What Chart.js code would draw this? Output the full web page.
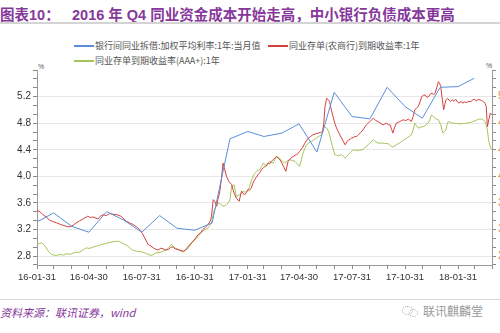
<!DOCTYPE html>
<html><head><meta charset="utf-8">
<script src="https://cdn.jsdelivr.net/npm/chart.js@4/dist/chart.umd.min.js"></script>
<style>
html,body{margin:0;padding:0;background:#fff;}
body{width:500px;height:333px;position:relative;overflow:hidden;font-family:"Liberation Sans","Noto Sans CJK SC",sans-serif;}
.abs{position:absolute;white-space:nowrap;}
#title{left:0;top:3px;font-size:14.5px;font-weight:bold;color:#86389A;font-family:"Liberation Sans","Noto Sans CJK SC",sans-serif;}
#hr1{left:0;top:22px;width:500px;height:2px;background:#d4d4d4;}
#hr2{left:0;top:299px;width:500px;height:1px;background:#d8d8d8;}
.lg{font-size:9px;color:#555;font-family:"Noto Sans CJK SC",sans-serif;}
.sw{height:1.5px;width:20px;}
#src{left:0;top:304px;font-size:11px;font-style:italic;color:#86389A;font-family:"Noto Sans CJK SC",sans-serif;}
#wm{left:423px;top:302px;font-size:12px;color:#9a9a9a;font-family:"Noto Sans CJK SC",sans-serif;}
#wrap{position:absolute;left:0;top:62px;width:500px;height:226px;}
.pct{font-size:7px;color:#555;}
</style></head>
<body>
<div class="abs" id="title">图表10：<span style="position:absolute;left:72px;">2016 年 Q4 同业资金成本开始走高，中小银行负债成本更高</span></div>
<div class="abs" id="hr1"></div>
<div class="abs sw" style="left:74px;top:45px;background:#5A8FD8;"></div>
<div class="abs lg" style="left:95px;top:39px;">银行间同业拆借:加权平均利率:1年:当月值</div>
<div class="abs sw" style="left:268px;top:45px;background:#D6403C;"></div>
<div class="abs lg" style="left:289px;top:39px;">同业存单(农商行)到期收益率:1年</div>
<div class="abs sw" style="left:74px;top:60px;background:#A3C45A;"></div>
<div class="abs lg" style="left:95px;top:54px;">同业存单到期收益率(AAA+):1年</div>
<div class="abs pct" style="left:38px;top:63px;">%</div>
<div class="abs pct" style="left:486px;top:62px;">%</div>
<div id="wrap"><canvas id="c"></canvas></div>
<div class="abs" id="hr2"></div>
<div class="abs" id="src">资料来源：联讯证券，wind</div>
<div class="abs" style="left:402px;top:306px;width:9px;height:7px;border:1px dotted #aaa;border-radius:50%;"></div>
<div class="abs" style="left:409px;top:309px;width:7px;height:6px;border:1px dotted #aaa;border-radius:50%;"></div>
<div class="abs" id="wm">联讯麒麟堂</div>
<script>
// x values: days since 2016-01-31
const tickDays = [0,29,60,90,121,151,182,213,243,274,304,335,366,394,425,455,486,516,547,578,608,639,669,700,731,759,790];
const labelDays = [0,90,182,274,366,455,547,639,731];
const tickLabels = ['16-01-31','16-04-30','16-07-31','16-10-31','17-01-31','17-04-30','17-07-31','17-10-31','18-01-31'];

// 银行间同业拆借:加权平均利率:1年:当月值 (monthly)
const blueDays = [0,29,60,90,121,151,182,213,243,274,304,335,366,394,425,455,486,516,547,578,608,639,669,700,731,759];
const blueVals = [3.315,3.45,3.25,3.16,3.47,3.34,3.16,3.41,3.22,3.19,3.30,4.565,4.675,4.60,4.65,4.79,4.365,5.265,4.90,4.865,5.34,5.05,4.875,5.34,5.35,5.475];

// 同业存单(农商行)到期收益率:1年
const redDays = [0,5,10,16,22,28,34,40,45,54,60,68,74,80,88,93,97,106,110,115,120,126,132,138,146,155,161,167,173,178,183,187,193,198,202,206,210,215,219,223,228,232,236,240,245,250,254,258,262,267,271,276,280,284,288,292,297,301,303,306,309,312,314,317,320,323,326,329,333,338,342,346,351,355,358,361,364,366,369,372,375,378,381,384,387,390,393,396,399,401,404,407,411,416,419,422,425,428,432,436,440,445,450,453,456,461,465,468,471,475,479,484,488,492,496,498,500,503,506,508,511,514,517,520,523,526,529,532,535,538,541,544,546,549,552,555,558,562,566,569,572,575,578,581,584,588,592,596,601,604,607,610,613,616,618,621,624,627,630,633,636,640,645,650,653,656,659,662,665,668,671,674,677,680,683,686,689,691,694,697,699,701,703,704,706,708,710,713,716,718,721,724,727,730,733,736,739,742,746,750,753,756,760,763,766,769,772,775,778,780,782,785,787,790];
const redVals = [3.49,3.47,3.425,3.39,3.34,3.32,3.30,3.28,3.265,3.24,3.25,3.30,3.33,3.36,3.40,3.38,3.39,3.36,3.40,3.425,3.41,3.44,3.43,3.425,3.40,3.325,3.30,3.275,3.24,3.20,3.14,3.075,2.975,2.95,2.925,2.905,2.89,2.92,2.91,2.89,2.90,2.93,2.94,2.91,2.90,2.885,2.875,2.89,2.925,2.98,3.025,3.08,3.125,3.15,3.20,3.23,3.275,3.33,3.40,3.65,3.62,3.55,3.65,3.75,3.95,4.20,4.10,4.00,3.925,3.875,3.75,3.675,3.625,3.775,3.74,3.725,3.76,3.80,3.79,3.825,3.90,3.95,3.99,4.025,4.06,4.10,4.13,4.15,4.17,4.20,4.19,4.225,4.26,4.30,4.27,4.25,4.20,4.15,4.075,4.225,4.27,4.30,4.325,4.34,4.375,4.43,4.50,4.54,4.575,4.60,4.625,4.64,4.65,4.66,4.675,4.80,5.05,5.175,5.15,5.125,5.00,4.90,4.80,4.73,4.675,4.62,4.575,4.52,4.475,4.52,4.55,4.56,4.575,4.58,4.60,4.60,4.625,4.66,4.70,4.74,4.775,4.80,4.825,4.85,4.875,4.84,4.825,4.80,4.775,4.79,4.80,4.78,4.775,4.70,4.65,4.74,4.80,4.81,4.825,4.84,4.85,4.84,4.86,4.825,4.90,5.00,5.03,5.05,5.12,5.20,5.22,5.225,5.19,5.20,5.24,5.25,5.23,5.25,5.33,5.425,5.40,5.35,5.20,5.15,5.00,5.08,5.15,5.175,5.14,5.125,5.15,5.13,5.16,5.12,5.10,5.13,5.10,5.12,5.11,5.13,5.12,5.15,5.16,5.13,5.16,5.15,5.14,5.125,5.10,5.05,4.75,4.875,4.95,4.93];

// 同业存单到期收益率(AAA+):1年
const greenDays = [0,4,8,12,16,20,25,30,34,38,42,46,51,56,60,64,68,72,77,81,86,90,94,99,103,108,112,118,123,128,132,136,141,145,149,154,158,164,168,173,178,184,188,193,199,203,207,212,216,220,225,229,233,236,239,245,250,254,258,262,267,271,276,280,284,288,292,297,300,303,307,311,314,317,320,323,326,329,332,335,338,342,344,346,349,352,355,358,361,364,367,369,372,375,378,381,384,387,390,393,396,398,401,404,407,410,413,416,420,424,427,430,434,439,443,448,452,456,459,462,465,468,472,476,481,485,489,494,496,498,500,503,506,508,511,513,517,520,523,526,529,532,535,538,540,544,549,553,558,562,566,570,575,579,584,588,592,596,601,605,610,614,618,621,624,629,633,637,642,646,650,653,656,659,662,666,671,675,679,682,685,688,691,694,697,701,703,705,708,710,712,714,718,723,728,734,740,746,752,757,763,769,772,775,778,780,782,784,786,788,790];
const greenVals = [2.975,2.99,3.00,2.975,2.925,2.87,2.825,2.815,2.81,2.82,2.825,2.815,2.835,2.83,2.835,2.85,2.86,2.855,2.875,2.90,2.925,2.915,2.925,2.94,2.95,2.96,2.975,2.985,3.00,3.01,3.015,3.02,3.025,3.01,2.99,2.97,2.95,2.90,2.885,2.875,2.87,2.86,2.845,2.825,2.81,2.83,2.85,2.855,2.86,2.88,2.90,2.93,2.975,2.95,2.925,2.90,2.875,2.86,2.90,2.95,2.99,3.025,3.06,3.10,3.14,3.175,3.20,3.225,3.26,3.30,3.475,3.55,3.58,3.60,3.57,3.55,3.56,3.575,3.60,3.65,3.85,3.875,3.80,3.70,3.71,3.725,3.75,3.775,3.76,3.775,3.80,3.85,3.93,4.00,4.04,4.075,4.09,4.10,4.15,4.20,4.18,4.15,4.19,4.225,4.21,4.20,4.25,4.30,4.28,4.25,4.22,4.20,4.23,4.25,4.24,4.225,4.19,4.15,4.25,4.35,4.42,4.475,4.50,4.525,4.55,4.575,4.60,4.625,4.68,4.75,4.74,4.725,4.68,4.625,4.52,4.45,4.325,4.32,4.31,4.32,4.325,4.30,4.275,4.30,4.325,4.36,4.40,4.395,4.39,4.395,4.40,4.44,4.475,4.51,4.55,4.52,4.50,4.50,4.50,4.495,4.49,4.46,4.44,4.46,4.475,4.50,4.525,4.55,4.575,4.60,4.625,4.70,4.80,4.76,4.725,4.74,4.75,4.77,4.80,4.85,4.925,4.90,4.875,4.86,4.85,4.775,4.70,4.65,4.68,4.70,4.78,4.825,4.81,4.80,4.795,4.79,4.795,4.80,4.81,4.825,4.845,4.865,4.86,4.85,4.82,4.775,4.70,4.55,4.47,4.425,4.40];

const yMajorLabels = ['2.8','3.2','3.6','4.0','4.4','4.8','5.2'];

const pts = (d, v) => d.map((x, i) => ({x: x, y: v[i]}));
const yMin = 2.8 - 0.4/3, yMax = 5.6, yStep = 0.4/3;
const yTicks = [];
for (let i = 0; yMin + i*yStep <= yMax + 1e-6; i++) yTicks.push(+(yMin + i*yStep).toFixed(6));
const isMajor = v => yMajorLabels.includes((+v).toFixed(1)) && Math.abs(v - (+(+v).toFixed(1))) < 1e-4;

const yAxisBase = (pos) => ({
  type: 'linear', position: pos, min: yMin, max: yMax,
  afterBuildTicks: s => { s.ticks = yTicks.map(v => ({value: v})); },
  afterFit: s => { s.width = pos === 'left' ? 37 : 8; },
  border: {color: '#9a9a9a', width: 1},
  grid: {
    drawOnChartArea: pos === 'left',
    color: c => (c.tick && isMajor(c.tick.value)) ? '#e8e8e8' : 'rgba(0,0,0,0)',
    tickColor: '#8a8a8a', tickLength: 4, lineWidth: 1
  },
  ticks: {
    autoSkip: false, padding: 2,
    color: pos === 'left' ? '#333' : '#E0902A',
    font: {family: 'Liberation Sans', size: 10},
    callback: v => isMajor(v) ? (+v).toFixed(1) : ''
  }
});

new Chart(document.getElementById('c'), {
  type: 'line',
  data: {
    datasets: [
      {label: '银行间同业拆借:加权平均利率:1年:当月值', data: pts(blueDays, blueVals), borderColor: '#5A8FD8', borderWidth: 1, pointRadius: 0, tension: 0},
      {label: '同业存单(农商行)到期收益率:1年', data: pts(redDays, redVals), borderColor: '#D6403C', borderWidth: 1, pointRadius: 0, tension: 0},
      {label: '同业存单到期收益率(AAA+):1年', data: pts(greenDays, greenVals), borderColor: '#A3C45A', borderWidth: 1, pointRadius: 0, tension: 0}
    ]
  },
  options: {
    responsive: true, maintainAspectRatio: false, animation: false,
    layout: {padding: {top: 8, left: 0, right: 0, bottom: 0}},
    plugins: {legend: {display: false}, tooltip: {enabled: false}},
    scales: {
      x: {
        type: 'linear', min: 0, max: 790,
        afterBuildTicks: s => { s.ticks = tickDays.map(v => ({value: v})); },
        afterFit: s => { s.height = 23; },
        border: {color: '#9a9a9a', width: 1},
        grid: {drawOnChartArea: false, tickColor: '#8a8a8a', tickLength: 4},
        ticks: {
          autoSkip: false, maxRotation: 0, padding: 3, color: '#333',
          font: {family: 'Liberation Sans', size: 9.5},
          callback: v => { const i = labelDays.indexOf(v); return i >= 0 ? tickLabels[i] : ''; }
        }
      },
      y: yAxisBase('left'),
      y2: yAxisBase('right')
    }
  }
});
</script>
</body></html>
